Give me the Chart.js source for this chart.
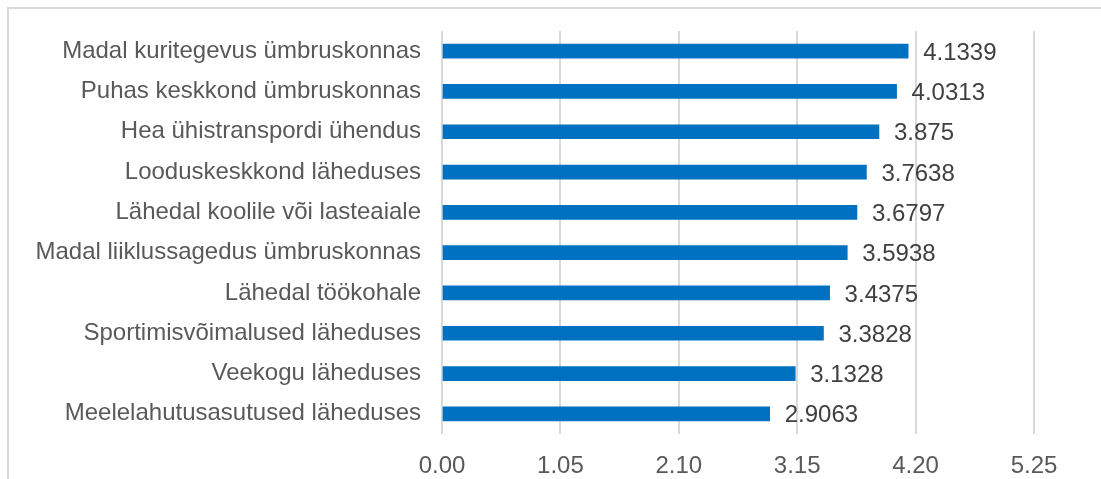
<!DOCTYPE html>
<html>
<head>
<meta charset="utf-8">
<script src="https://cdn.jsdelivr.net/npm/chart.js@4/dist/chart.umd.min.js"></script>
<style>
  html, body { margin: 0; padding: 0; background: #ffffff; }
  #wrap { position: relative; width: 1101px; height: 479px; overflow: hidden; }
  #frame {
    position: absolute; left: 7px; top: 7px; width: 1200px; height: 600px;
    border-top: 2px solid #d9d9d9; border-left: 2px solid #d9d9d9;
    box-sizing: border-box;
  }
  canvas { position: absolute; left: 0; top: 0; }
</style>
</head>
<body>
<div id="wrap">
  <div id="frame"></div>
  <canvas id="chart" width="1101" height="479"></canvas>
</div>
<script>
const categories = [
  'Madal kuritegevus ümbruskonnas',
  'Puhas keskkond ümbruskonnas',
  'Hea ühistranspordi ühendus',
  'Looduskeskkond läheduses',
  'Lähedal koolile või lasteaiale',
  'Madal liiklussagedus ümbruskonnas',
  'Lähedal töökohale',
  'Sportimisvõimalused läheduses',
  'Veekogu läheduses',
  'Meelelahutusasutused läheduses'
];
const values = [4.1339, 4.0313, 3.875, 3.7638, 3.6797, 3.5938, 3.4375, 3.3828, 3.1328, 2.9063];
const tickValues = [0, 1.05, 2.10, 3.15, 4.20, 5.25];
const tickLabels = ['0.00', '1.05', '2.10', '3.15', '4.20', '5.25'];

const FONT = { family: '"Liberation Sans", Arial, sans-serif', size: 24 };
const TEXT = '#595959';

// Writes each bar's value just past the end of the bar
const valueLabels = {
  id: 'valueLabels',
  afterDatasetsDraw(chart) {
    const ctx = chart.ctx;
    const meta = chart.getDatasetMeta(0);
    const data = chart.data.datasets[0].data;
    ctx.save();
    ctx.font = FONT.size + 'px ' + FONT.family;
    ctx.fillStyle = '#404040';
    ctx.textAlign = 'left';
    ctx.textBaseline = 'middle';
    meta.data.forEach((bar, i) => {
      ctx.fillText(String(data[i]), bar.x + 15, bar.y + 2);
    });
    ctx.restore();
  }
};

new Chart(document.getElementById('chart'), {
  type: 'bar',
  data: {
    labels: categories,
    datasets: [{
      data: values,
      backgroundColor: '#0070C0',
      borderWidth: 0,
      barThickness: 14
    }]
  },
  options: {
    indexAxis: 'y',
    responsive: false,
    animation: false,
    devicePixelRatio: 1,
    layout: { padding: { top: 31, right: 67, bottom: 0, left: 0 } },
    plugins: { legend: { display: false }, tooltip: { enabled: false } },
    scales: {
      x: {
        min: 0,
        max: 5.25,
        afterBuildTicks(scale) { scale.ticks = tickValues.map(v => ({ value: v })); },
        afterFit(scale) { scale.height = 45; },
        grid: { color: '#d9d9d9', lineWidth: 2, drawTicks: false },
        border: { display: false },
        ticks: {
          padding: 18,
          color: TEXT,
          font: FONT,
          maxRotation: 0,
          callback(value, index) { return tickLabels[index]; }
        }
      },
      y: {
        afterFit(scale) {
          scale.width = 442;
          scale.paddingTop = 0;
          scale.paddingBottom = 0;
        },
        grid: { display: false, drawTicks: false },
        border: { display: false },
        ticks: { padding: 21, color: TEXT, font: FONT, autoSkip: false }
      }
    }
  },
  plugins: [valueLabels]
});
</script>
</body>
</html>
